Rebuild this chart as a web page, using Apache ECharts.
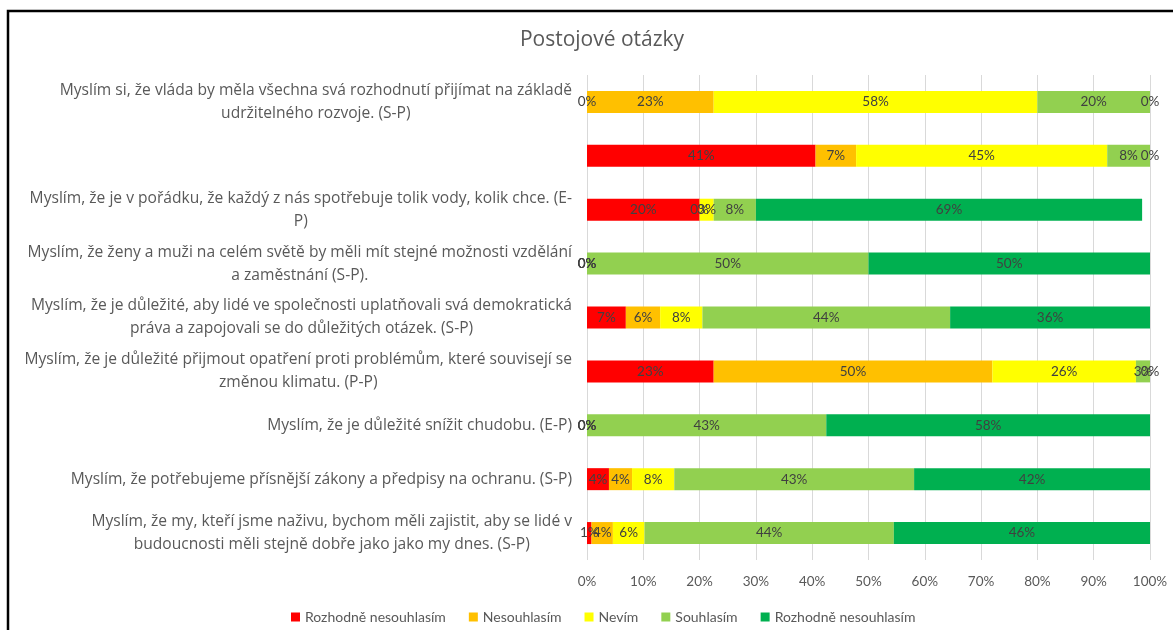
<!DOCTYPE html>
<html>
<head>
<meta charset="utf-8">
<script src="https://cdn.jsdelivr.net/npm/echarts@6/dist/echarts.min.js"></script>
<style>
html,body{margin:0;padding:0;background:#fff;}
#chart{width:1173px;height:630px;}
</style>
</head>
<body>
<div id="chart"></div>
<script>
var categories = [
  'Myslím si, že vláda by měla všechna svá rozhodnutí přijímat na základě\nudržitelného rozvoje. (S-P)',
  '',
  'Myslím, že je v pořádku, že každý z nás spotřebuje tolik vody, kolik chce. (E-\nP)',
  'Myslím, že ženy a muži na celém světě by měli mít stejné možnosti vzdělání\na zaměstnání (S-P).',
  'Myslím, že je důležité, aby lidé ve společnosti uplatňovali svá demokratická\npráva a zapojovali se do důležitých otázek. (S-P)',
  'Myslím, že je důležité přijmout opatření proti problémům, které souvisejí se\nzměnou klimatu. (P-P)',
  'Myslím, že je důležité snížit chudobu. (E-P)',
  'Myslím, že potřebujeme přísnější zákony a předpisy na ochranu. (S-P)',
  'Myslím, že my, kteří jsme naživu, bychom měli zajistit, aby se lidé v\nbudoucnosti měli stejně dobře jako jako my dnes. (S-P)'
];
var seriesNames = ['Rozhodně nesouhlasím', 'Nesouhlasím', 'Nevím', 'Souhlasím', 'Rozhodně nesouhlasím '];
var rozhodneNesouhlasim = [0, 40.6, 20, 0, 6.9, 22.5, 0, 3.9, 0.8];
var nesouhlasim = [22.5, 7.2, 0, 0, 6.1, 49.5, 0, 4.1, 3.8];
var nevim = [57.5, 44.6, 2.5, 0, 7.5, 25.5, 0, 7.5, 5.6];
var souhlasim = [20, 7.6, 7.5, 50, 44, 2.5, 42.5, 42.6, 44.3];
var rozhodneSouhlasim = [0, 0, 68.6, 50, 35.5, 0, 57.5, 41.9, 45.5];
var xTicks = [0, 10, 20, 30, 40, 50, 60, 70, 80, 90, 100];

var colors = ['#FF0000', '#FFC000', '#FFFF00', '#92D050', '#00B050'];
var values = [rozhodneNesouhlasim, nesouhlasim, nevim, souhlasim, rozhodneSouhlasim];
var FONT = 'Lato';
var CATFONT = 'Open Sans';

var chart = echarts.init(document.getElementById('chart'));
var series = values.map(function (arr, i) {
  return {
    name: seriesNames[i],
    type: 'bar',
    stack: 'total',
    barWidth: 22,
    data: arr,
    itemStyle: { color: colors[i] },
    label: {
      show: true,
      position: 'inside',
      color: '#404040',
      fontFamily: FONT,
      fontSize: 13.5,
      formatter: function (p) { return Math.round(p.value) + '%'; }
    }
  };
});

chart.setOption({
  animation: false,
  color: colors,
  title: {
    text: 'Postojové otázky',
    left: 597,
    textAlign: 'center',
    top: 25,
    textStyle: { color: '#595959', fontFamily: CATFONT, fontSize: 21, fontWeight: 'normal' }
  },
  legend: {
    left: 286,
    top: 605,
    itemWidth: 9,
    itemHeight: 9,
    itemGap: 23,
    icon: 'rect',
    textStyle: { color: '#595959', fontFamily: FONT, fontSize: 14 },
    data: seriesNames
  },
  grid: { left: 587, right: 23, top: 75, bottom: 70, containLabel: false },
  xAxis: {
    type: 'value',
    min: xTicks[0],
    max: xTicks[xTicks.length - 1],
    interval: 10,
    axisLine: { show: false },
    axisTick: { show: false },
    splitLine: { show: true, lineStyle: { color: '#D9D9D9', width: 1 } },
    axisLabel: {
      color: '#595959', fontFamily: FONT, fontSize: 13.5, margin: 15,
      formatter: function (v) { return v + '%'; }
    }
  },
  yAxis: {
    type: 'category',
    inverse: true,
    data: categories,
    axisLine: { show: false },
    axisTick: { show: false },
    axisLabel: {
      margin: 15,
      color: '#595959',
      fontFamily: CATFONT,
      fontSize: 15.6,
      lineHeight: 23,
      formatter: function (v) {
        return v.split('\n').map(function (s) { return '{c|' + s + '}'; }).join('\n');
      },
      rich: {
        c: { align: 'center', color: '#595959', fontFamily: CATFONT, fontSize: 15.6, lineHeight: 23 }
      }
    }
  },
  graphic: [{
    type: 'rect',
    silent: true,
    z: 100,
    shape: { x: 8, y: 11, width: 1300, height: 800 },
    style: { fill: 'none', stroke: '#000', lineWidth: 2.5 }
  }],
  series: series
});
</script>
</body>
</html>
